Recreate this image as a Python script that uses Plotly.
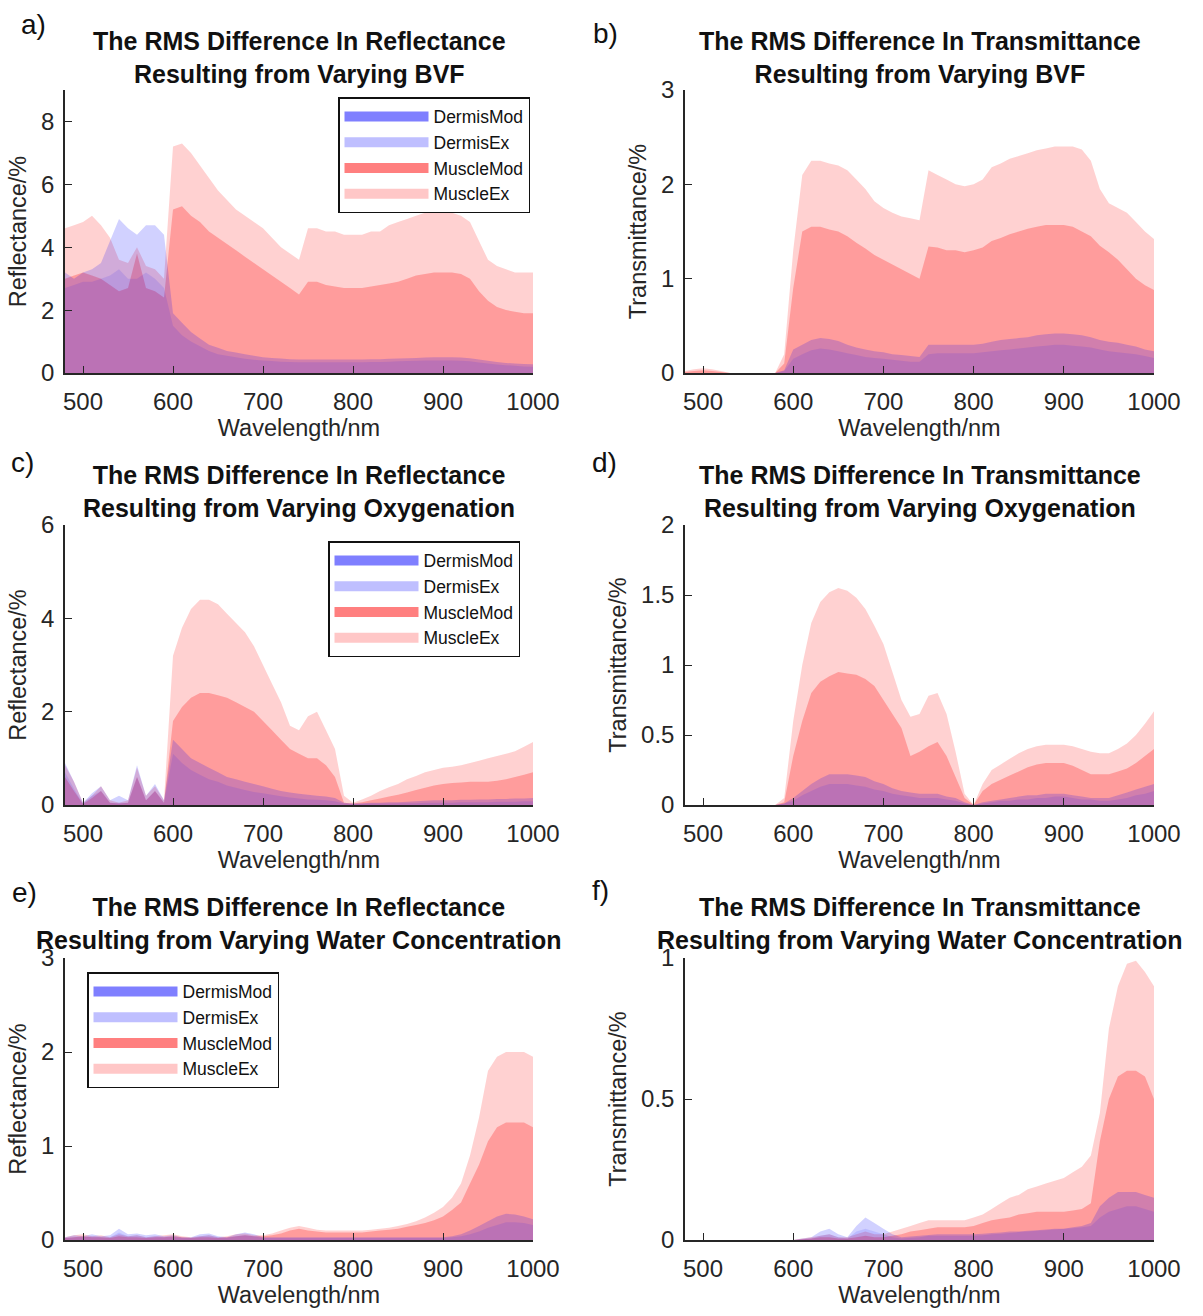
import plotly.graph_objects as go

# ---------------- data ----------------
wl = [480, 490, 500, 510, 520, 530, 540, 550, 560, 570, 580, 590,
      600, 610, 620, 630, 640, 650, 660, 670, 680, 690,
      700, 710, 720, 730, 740, 750, 760, 770, 780, 790,
      800, 810, 820, 830, 840, 850, 860, 870, 880, 890,
      900, 910, 920, 930, 940, 950, 960, 970, 980, 990, 1000]

series_names = ["DermisMod", "DermisEx", "MuscleMod", "MuscleEx"]

# a) Reflectance, varying BVF
a_dermis_mod = [2.7, 2.8, 2.9, 2.9, 3.0, 3.1, 3.3, 3.0, 3.0, 3.2, 3.0, 2.7,
                1.5, 1.2, 1.0, 0.85, 0.7, 0.6, 0.55, 0.5, 0.45, 0.42,
                0.4, 0.38, 0.36, 0.35, 0.34, 0.34, 0.34, 0.34, 0.34, 0.34,
                0.34, 0.34, 0.35, 0.35, 0.36, 0.37, 0.38, 0.39, 0.4, 0.4,
                0.4, 0.4, 0.39, 0.37, 0.33, 0.3, 0.27, 0.25, 0.23, 0.21, 0.2]
a_dermis_ex = [3.2, 3.0, 3.2, 3.3, 3.5, 4.2, 4.9, 4.6, 4.4, 4.7, 4.7, 4.4,
               1.9, 1.6, 1.3, 1.1, 0.9, 0.8, 0.7, 0.65, 0.6, 0.55,
               0.5, 0.48, 0.46, 0.44, 0.43, 0.43, 0.43, 0.43, 0.43, 0.43,
               0.43, 0.43, 0.44, 0.44, 0.45, 0.46, 0.47, 0.48, 0.49, 0.5,
               0.5, 0.5, 0.49, 0.47, 0.43, 0.39, 0.35, 0.32, 0.3, 0.29, 0.28]
a_muscle_mod = [3.0, 3.1, 3.2, 3.1, 3.0, 2.8, 2.6, 2.7, 3.8, 2.7, 2.6, 2.4,
                5.2, 5.3, 5.0, 4.8, 4.5, 4.3, 4.1, 3.9, 3.7, 3.5,
                3.3, 3.1, 2.9, 2.7, 2.5, 2.9, 2.9, 2.8, 2.75, 2.7,
                2.7, 2.7, 2.75, 2.8, 2.85, 2.9, 3.0, 3.1, 3.15, 3.2,
                3.2, 3.2, 3.15, 3.0, 2.6, 2.3, 2.1, 2.0, 1.95, 1.9, 1.9]
a_muscle_ex = [4.6, 4.7, 4.8, 5.0, 4.7, 4.3, 3.6, 3.5, 4.0, 3.4, 3.3, 3.0,
               7.2, 7.3, 7.0, 6.6, 6.2, 5.8, 5.5, 5.2, 5.0, 4.8,
               4.6, 4.3, 4.0, 3.8, 3.6, 4.6, 4.6, 4.5, 4.5, 4.4,
               4.4, 4.4, 4.5, 4.5, 4.7, 4.8, 4.9, 5.0, 5.1, 5.15,
               5.15, 5.1, 5.0, 4.8, 4.2, 3.6, 3.4, 3.3, 3.2, 3.2, 3.2]

# b) Transmittance, varying BVF
b_dermis_mod = [0, 0, 0, 0, 0, 0, 0, 0, 0, 0, 0, 0.02,
                0.15, 0.2, 0.24, 0.26, 0.25, 0.23, 0.21, 0.19, 0.17, 0.16,
                0.15, 0.14, 0.13, 0.12, 0.12, 0.2, 0.21, 0.21, 0.21, 0.21,
                0.21, 0.22, 0.23, 0.24, 0.25, 0.26, 0.27, 0.28, 0.29, 0.3,
                0.3, 0.29, 0.28, 0.27, 0.25, 0.23, 0.22, 0.21, 0.2, 0.18, 0.16]
b_dermis_ex = [0, 0, 0, 0, 0, 0, 0, 0, 0, 0, 0, 0.03,
               0.25, 0.3, 0.35, 0.37, 0.36, 0.34, 0.3, 0.27, 0.25, 0.23,
               0.22, 0.2, 0.19, 0.18, 0.17, 0.3, 0.3, 0.3, 0.3, 0.3,
               0.3, 0.31, 0.33, 0.35, 0.36, 0.37, 0.38, 0.4, 0.41, 0.42,
               0.42, 0.41, 0.4, 0.38, 0.35, 0.33, 0.32, 0.3, 0.28, 0.25, 0.23]
b_muscle_mod = [0.01, 0.02, 0.03, 0.02, 0.01, 0, 0, 0, 0, 0, 0, 0.1,
                0.9, 1.5, 1.55, 1.55, 1.52, 1.5, 1.45, 1.38, 1.32, 1.25,
                1.2, 1.15, 1.1, 1.05, 1.0, 1.34, 1.33, 1.3, 1.3, 1.28,
                1.3, 1.33, 1.4, 1.43, 1.47, 1.5, 1.53, 1.55, 1.57, 1.57,
                1.57, 1.55, 1.5, 1.45, 1.35, 1.28, 1.2, 1.1, 1.0, 0.93, 0.88]
b_muscle_ex = [0.02, 0.04, 0.05, 0.04, 0.02, 0, 0, 0, 0, 0, 0, 0.2,
               1.3, 2.1, 2.25, 2.25, 2.22, 2.2, 2.15, 2.05, 1.95, 1.82,
               1.75, 1.7, 1.66, 1.64, 1.62, 2.15, 2.1, 2.05, 2.0, 1.98,
               2.0, 2.05, 2.18, 2.22, 2.27, 2.3, 2.33, 2.36, 2.38, 2.4,
               2.4, 2.4, 2.37, 2.25, 1.95, 1.8, 1.75, 1.7, 1.6, 1.5, 1.42]

# c) Reflectance, varying oxygenation
c_dermis_mod = [0.7, 0.35, 0.03, 0.2, 0.3, 0.05, 0.05, 0.05, 0.6, 0.1, 0.3, 0.05,
                1.1, 0.9, 0.75, 0.65, 0.55, 0.5, 0.42, 0.37, 0.32, 0.28,
                0.25, 0.22, 0.19, 0.16, 0.14, 0.12, 0.11, 0.1, 0.08, 0.03,
                0.02, 0.02, 0.03, 0.03, 0.03, 0.04, 0.04, 0.04, 0.05, 0.05,
                0.05, 0.05, 0.06, 0.06, 0.06, 0.06, 0.07, 0.07, 0.07, 0.08, 0.08]
c_dermis_ex = [0.9, 0.5, 0.05, 0.25, 0.4, 0.1, 0.2, 0.1, 0.85, 0.2, 0.45, 0.1,
               1.4, 1.2, 1.0, 0.9, 0.8, 0.7, 0.6, 0.55, 0.5, 0.45,
               0.4, 0.35, 0.3, 0.27, 0.24, 0.22, 0.2, 0.18, 0.15, 0.05,
               0.03, 0.04, 0.05, 0.05, 0.06, 0.06, 0.07, 0.08, 0.09, 0.1,
               0.1, 0.1, 0.11, 0.11, 0.12, 0.12, 0.13, 0.13, 0.14, 0.14, 0.15]
c_muscle_mod = [0.6, 0.3, 0.02, 0.15, 0.3, 0.05, 0.03, 0.05, 0.6, 0.1, 0.3, 0.05,
                1.8, 2.1, 2.3, 2.4, 2.4, 2.35, 2.3, 2.2, 2.1, 2.0,
                1.8, 1.6, 1.4, 1.2, 1.1, 1.0, 1.0, 0.85, 0.6, 0.05,
                0.03, 0.06, 0.1, 0.14, 0.18, 0.22, 0.27, 0.32, 0.37, 0.42,
                0.45, 0.47, 0.48, 0.5, 0.5, 0.5, 0.52, 0.55, 0.6, 0.65, 0.7]
c_muscle_ex = [0.85, 0.5, 0.05, 0.2, 0.4, 0.1, 0.05, 0.1, 0.8, 0.2, 0.4, 0.1,
               3.2, 3.8, 4.2, 4.4, 4.4, 4.3, 4.1, 3.9, 3.7, 3.4,
               3.0, 2.6, 2.2, 1.7, 1.6, 1.9, 2.0, 1.6, 1.2, 0.2,
               0.05, 0.12, 0.2, 0.3, 0.38, 0.45, 0.55, 0.62, 0.7, 0.75,
               0.8, 0.82, 0.85, 0.9, 0.95, 1.0, 1.05, 1.1, 1.15, 1.25, 1.35]

# d) Transmittance, varying oxygenation
d_dermis_mod = [0, 0, 0, 0, 0, 0, 0, 0, 0, 0, 0, 0.01,
                0.03, 0.07, 0.1, 0.13, 0.15, 0.15, 0.15, 0.14, 0.13, 0.11,
                0.1, 0.08, 0.07, 0.06, 0.05, 0.05, 0.05, 0.04, 0.03, 0.01,
                0, 0.01, 0.02, 0.03, 0.03, 0.04, 0.04, 0.05, 0.05, 0.06,
                0.06, 0.05, 0.04, 0.04, 0.03, 0.03, 0.04, 0.05, 0.07, 0.08, 0.1]
d_dermis_ex = [0, 0, 0, 0, 0, 0, 0, 0, 0, 0, 0, 0.01,
               0.05, 0.1, 0.15, 0.19, 0.22, 0.22, 0.22, 0.21, 0.2, 0.17,
               0.15, 0.12, 0.1, 0.09, 0.08, 0.08, 0.08, 0.06, 0.05, 0.02,
               0, 0.02, 0.03, 0.04, 0.05, 0.06, 0.07, 0.07, 0.08, 0.08,
               0.08, 0.07, 0.06, 0.05, 0.05, 0.05, 0.07, 0.09, 0.11, 0.13, 0.15]
d_muscle_mod = [0, 0, 0, 0, 0, 0, 0, 0, 0, 0, 0, 0.02,
                0.35, 0.6, 0.8, 0.88, 0.92, 0.95, 0.94, 0.93, 0.9, 0.85,
                0.75, 0.65, 0.55, 0.35, 0.38, 0.42, 0.45, 0.35, 0.2, 0.05,
                0, 0.1, 0.15, 0.18, 0.21, 0.24, 0.27, 0.29, 0.3, 0.3,
                0.3, 0.28, 0.25, 0.22, 0.22, 0.22, 0.24, 0.26, 0.3, 0.35, 0.4]
d_muscle_ex = [0, 0, 0, 0, 0, 0, 0, 0, 0, 0, 0, 0.05,
               0.6, 1.0, 1.3, 1.45, 1.52, 1.55, 1.53, 1.48, 1.4, 1.28,
               1.15, 0.95, 0.75, 0.63, 0.65, 0.78, 0.8, 0.65, 0.38, 0.08,
               0, 0.15, 0.25, 0.29, 0.33, 0.37, 0.4, 0.42, 0.43, 0.43,
               0.43, 0.42, 0.4, 0.38, 0.37, 0.37, 0.4, 0.44, 0.5, 0.58, 0.67]

# e) Reflectance, varying water concentration
e_dermis_mod = [0.02, 0.03, 0.03, 0.04, 0.03, 0.03, 0.08, 0.04, 0.05, 0.03, 0.04, 0.03,
                0.03, 0.02, 0.02, 0.04, 0.05, 0.03, 0.02, 0.04, 0.05, 0.04,
                0.02, 0.02, 0.02, 0.02, 0.02, 0.02, 0.02, 0.02, 0.02, 0.02,
                0.02, 0.02, 0.02, 0.02, 0.02, 0.02, 0.02, 0.02, 0.02, 0.02,
                0.02, 0.03, 0.04, 0.06, 0.09, 0.13, 0.16, 0.19, 0.19, 0.18, 0.16]
e_dermis_ex = [0.03, 0.05, 0.04, 0.06, 0.04, 0.05, 0.12, 0.06, 0.07, 0.05, 0.06, 0.04,
               0.05, 0.03, 0.03, 0.06, 0.07, 0.04, 0.03, 0.06, 0.08, 0.06,
               0.03, 0.03, 0.03, 0.03, 0.03, 0.03, 0.03, 0.03, 0.03, 0.03,
               0.03, 0.03, 0.03, 0.03, 0.03, 0.03, 0.03, 0.03, 0.03, 0.03,
               0.03, 0.04, 0.06, 0.1, 0.15, 0.2, 0.25, 0.28, 0.27, 0.25, 0.22]
e_muscle_mod = [0.02, 0.03, 0.04, 0.03, 0.03, 0.02, 0.04, 0.03, 0.03, 0.02, 0.03, 0.03,
                0.04, 0.03, 0.02, 0.03, 0.03, 0.02, 0.03, 0.04, 0.05, 0.04,
                0.04, 0.05, 0.07, 0.1, 0.12, 0.1, 0.09, 0.08, 0.08, 0.08,
                0.08, 0.08, 0.09, 0.1, 0.11, 0.12, 0.14, 0.16, 0.18, 0.21,
                0.25, 0.32, 0.4, 0.6, 0.8, 1.05, 1.2, 1.25, 1.25, 1.25, 1.2]
e_muscle_ex = [0.03, 0.05, 0.06, 0.04, 0.05, 0.03, 0.06, 0.04, 0.05, 0.03, 0.04, 0.05,
               0.06, 0.04, 0.03, 0.04, 0.05, 0.03, 0.04, 0.06, 0.07, 0.05,
               0.05, 0.07, 0.1, 0.13, 0.15, 0.13, 0.11, 0.1, 0.1, 0.1,
               0.1, 0.1, 0.11, 0.12, 0.13, 0.15, 0.17, 0.2, 0.24, 0.29,
               0.35, 0.45, 0.6, 0.9, 1.3, 1.8, 1.95, 2.0, 2.0, 2.0, 1.95]

# f) Transmittance, varying water concentration
f_dermis_mod = [0, 0, 0, 0, 0, 0, 0, 0, 0, 0, 0, 0,
                0, 0.003, 0.005, 0.015, 0.02, 0.01, 0.005, 0.03, 0.04, 0.03,
                0.02, 0.01, 0.005, 0.008, 0.01, 0.015, 0.015, 0.015, 0.015, 0.015,
                0.015, 0.017, 0.02, 0.022, 0.025, 0.028, 0.03, 0.033, 0.035, 0.037,
                0.04, 0.042, 0.045, 0.05, 0.08, 0.1, 0.11, 0.12, 0.12, 0.11, 0.1]
f_dermis_ex = [0, 0, 0, 0, 0, 0, 0, 0, 0, 0, 0, 0,
               0, 0.005, 0.01, 0.03, 0.04, 0.02, 0.01, 0.05, 0.08, 0.06,
               0.04, 0.02, 0.01, 0.012, 0.015, 0.018, 0.02, 0.02, 0.02, 0.02,
               0.02, 0.022, 0.025, 0.027, 0.03, 0.03, 0.033, 0.035, 0.037, 0.04,
               0.04, 0.045, 0.05, 0.06, 0.12, 0.15, 0.17, 0.17, 0.17, 0.16, 0.15]
f_muscle_mod = [0, 0, 0, 0, 0, 0, 0, 0, 0, 0, 0, 0,
                0, 0.003, 0.005, 0.01, 0.01, 0.005, 0.005, 0.01, 0.015, 0.01,
                0.01, 0.015, 0.02, 0.03, 0.035, 0.04, 0.045, 0.045, 0.045, 0.045,
                0.05, 0.06, 0.07, 0.075, 0.08, 0.09, 0.095, 0.1, 0.1, 0.1,
                0.1, 0.105, 0.11, 0.13, 0.35, 0.5, 0.58, 0.6, 0.6, 0.58, 0.5]
f_muscle_ex = [0, 0, 0, 0, 0, 0, 0, 0, 0, 0, 0, 0,
               0, 0.005, 0.01, 0.015, 0.02, 0.01, 0.01, 0.02, 0.03, 0.02,
               0.02, 0.03, 0.04, 0.05, 0.06, 0.07, 0.07, 0.07, 0.07, 0.07,
               0.08, 0.09, 0.11, 0.13, 0.15, 0.16, 0.18, 0.19, 0.2, 0.21,
               0.22, 0.24, 0.26, 0.3, 0.45, 0.75, 0.9, 0.98, 0.99, 0.95, 0.9]

x_ticks = [500, 600, 700, 800, 900, 1000]

# ---------------- styling ----------------
W, H = 1203, 1316
FONT = "Liberation Sans, Arial, Helvetica, sans-serif"
AX = "#262626"

fill_colors = {
    "DermisMod": "rgba(0,0,255,0.10)",
    "DermisEx": "rgba(0,0,255,0.18)",
    "MuscleMod": "rgba(255,0,0,0.25)",
    "MuscleEx": "rgba(255,0,0,0.18)",
}
legend_colors = {
    "DermisMod": "rgba(0,0,255,0.50)",
    "DermisEx": "rgba(0,0,255,0.25)",
    "MuscleMod": "rgba(255,0,0,0.50)",
    "MuscleEx": "rgba(255,0,0,0.22)",
}


def px_x(p):
    return p / W


def px_y(p):
    return 1 - p / H


XL = [px_x(65), px_x(533)]
XR = [px_x(685), px_x(1154)]
ROWS = [[px_y(373), px_y(90)], [px_y(805), px_y(525)], [px_y(1240), px_y(958)]]

panels = [
    dict(label="a)", lab_xy=(33, 25), col=0, row=0, ytitle="Reflectance/%",
         yrange=[0, 9], yticks=[0, 2, 4, 6, 8],
         title="The RMS Difference In Reflectance<br>Resulting from Varying BVF",
         data=[a_dermis_mod, a_dermis_ex, a_muscle_mod, a_muscle_ex],
         legend="legend", leg_xy=(338, 97)),
    dict(label="b)", lab_xy=(605, 33), col=1, row=0, ytitle="Transmittance/%",
         yrange=[0, 3], yticks=[0, 1, 2, 3],
         title="The RMS Difference In Transmittance<br>Resulting from Varying BVF",
         data=[b_dermis_mod, b_dermis_ex, b_muscle_mod, b_muscle_ex],
         legend=None),
    dict(label="c)", lab_xy=(22, 462), col=0, row=1, ytitle="Reflectance/%",
         yrange=[0, 6], yticks=[0, 2, 4, 6],
         title="The RMS Difference In Reflectance<br>Resulting from Varying Oxygenation",
         data=[c_dermis_mod, c_dermis_ex, c_muscle_mod, c_muscle_ex],
         legend="legend2", leg_xy=(328, 541)),
    dict(label="d)", lab_xy=(604, 462), col=1, row=1, ytitle="Transmittance/%",
         yrange=[0, 2], yticks=[0, 0.5, 1, 1.5, 2],
         title="The RMS Difference In Transmittance<br>Resulting from Varying Oxygenation",
         data=[d_dermis_mod, d_dermis_ex, d_muscle_mod, d_muscle_ex],
         legend=None),
    dict(label="e)", lab_xy=(24, 892), col=0, row=2, ytitle="Reflectance/%",
         yrange=[0, 3], yticks=[0, 1, 2, 3],
         title="The RMS Difference In Reflectance<br>Resulting from Varying Water Concentration",
         data=[e_dermis_mod, e_dermis_ex, e_muscle_mod, e_muscle_ex],
         legend="legend3", leg_xy=(87, 972)),
    dict(label="f)", lab_xy=(600, 890), col=1, row=2, ytitle="Transmittance/%",
         yrange=[0, 1], yticks=[0, 0.5, 1],
         title="The RMS Difference In Transmittance<br>Resulting from Varying Water Concentration",
         data=[f_dermis_mod, f_dermis_ex, f_muscle_mod, f_muscle_ex],
         legend=None),
]
title_centers = [58, 491, 923]

fig = go.Figure()
layout = dict(
    width=W, height=H, margin=dict(l=0, r=0, t=0, b=0),
    paper_bgcolor="white", plot_bgcolor="white",
    font=dict(family=FONT, color=AX),
    showlegend=True,
)
annotations = []

draw_order = [3, 2, 1, 0]  # muscle first, dermis on top

for i, p in enumerate(panels):
    k = i + 1
    xa = "x" if k == 1 else f"x{k}"
    ya = "y" if k == 1 else f"y{k}"
    xdom = XL if p["col"] == 0 else XR
    ydom = ROWS[p["row"]]
    axis_common = dict(
        showline=True, linecolor=AX, linewidth=1.5, mirror=False,
        ticks="inside", ticklen=7, tickwidth=1.3, tickcolor=AX,
        showgrid=False, zeroline=False, automargin=False,
        tickfont=dict(size=24, family=FONT, color=AX),
    )
    layout["xaxis" if k == 1 else f"xaxis{k}"] = dict(
        axis_common, domain=xdom, anchor=ya, range=[480, 1000],
        tickvals=x_ticks, ticklabelstandoff=6,
        title=dict(text="Wavelength/nm", font=dict(size=23.5, family=FONT, color=AX), standoff=6),
    )
    layout["yaxis" if k == 1 else f"yaxis{k}"] = dict(
        axis_common, domain=ydom, anchor=xa, range=p["yrange"],
        tickvals=p["yticks"], ticklabelstandoff=4,
        title=dict(text=p["ytitle"], font=dict(size=23.5, family=FONT, color=AX), standoff=8),
    )
    for j in draw_order:
        name = series_names[j]
        fig.add_trace(go.Scatter(
            x=wl, y=p["data"][j], xaxis=xa, yaxis=ya, name=name,
            mode="none", fill="tozeroy", fillcolor=fill_colors[name],
            showlegend=False, hoverinfo="skip",
        ))
    if p["legend"]:
        for name in series_names:
            fig.add_trace(go.Scatter(
                x=[None], y=[None], xaxis=xa, yaxis=ya, name=name,
                mode="lines", line=dict(color=legend_colors[name], width=14),
                legend=p["legend"], showlegend=True,
            ))
        lx, ly = p["leg_xy"]
        layout[p["legend"]] = dict(
            x=px_x(lx), y=px_y(ly), xanchor="left", yanchor="top",
            bgcolor="white", bordercolor="#111", borderwidth=1.5,
            font=dict(size=17.5, family=FONT, color="#111"),
            itemwidth=84, tracegroupgap=0, traceorder="normal",
        )
    xc = (xdom[0] + xdom[1]) / 2
    annotations.append(dict(
        text=p["title"], x=xc, y=px_y(title_centers[p["row"]]),
        xref="paper", yref="paper", xanchor="center", yanchor="middle",
        showarrow=False, align="center",
        font=dict(size=25, family=FONT, color="#111", weight="bold"),
    ))
    annotations.append(dict(
        text=p["label"], x=px_x(p["lab_xy"][0]), y=px_y(p["lab_xy"][1]),
        xref="paper", yref="paper", xanchor="center", yanchor="middle",
        showarrow=False, font=dict(size=28, family=FONT, color="#111"),
    ))

layout["annotations"] = annotations
fig.update_layout(**layout)
fig.write_html("out.html")
